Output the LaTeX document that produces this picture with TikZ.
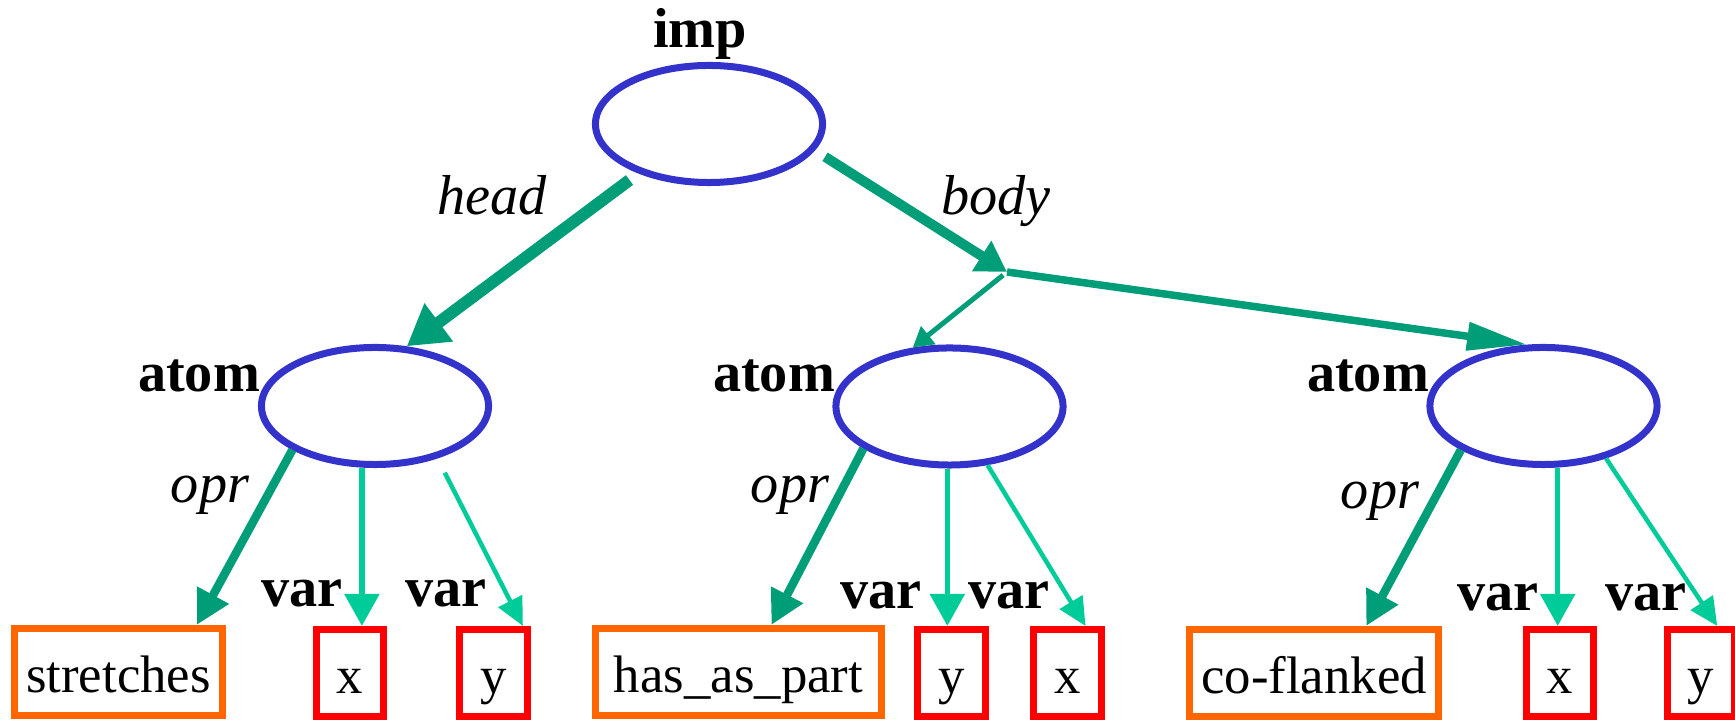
\documentclass[tikz,border=0pt]{standalone}
\usepackage{fontspec}
\setmainfont{Liberation Serif}
\usetikzlibrary{shapes.geometric,arrows.meta}

\definecolor{bleunoeud}{RGB}{51,51,204}
\definecolor{orangeopr}{RGB}{255,102,0}
\definecolor{rougevar}{RGB}{255,0,0}
\definecolor{vertarc}{RGB}{0,158,120}
\definecolor{vertvar}{RGB}{0,204,153}

\begin{document}
\begin{tikzpicture}[x=0.01cm, y=-0.01cm,
  noeud/.style={ellipse, draw=bleunoeud, line width=0.07cm, minimum width=2.27cm, minimum height=1.17cm, inner sep=0pt},
  boite/.style={rectangle, line width=0.07cm, minimum height=0.87cm, inner sep=0pt, font=\fontsize{15}{18}\selectfont, text height=0.4cm, text depth=0pt},
  oprbox/.style={boite, draw=orangeopr},
  varbox/.style={boite, draw=rougevar, minimum width=0.67cm},
  etiq/.style={anchor=base, inner sep=0pt, font=\fontsize{16}{19}\selectfont\bfseries},
  arc/.style={anchor=base, inner sep=0pt, font=\fontsize{16}{19}\selectfont\itshape},
  gros/.style={draw=vertarc, line width=0.12cm, -{Triangle[length=0.4cm, width=0.45cm]}},
  moyen/.style={draw=vertarc, line width=0.1cm, -{Triangle[length=0.3cm, width=0.34cm]}},
  opr/.style={draw=vertarc, line width=0.085cm, -{Triangle[length=0.34cm, width=0.34cm]}},
  var/.style={draw=vertvar, line width=0.055cm, -{Triangle[length=0.32cm, width=0.34cm]}},
  varfin/.style={draw=vertvar, line width=0.045cm, -{Triangle[length=0.28cm, width=0.26cm]}}]

\useasboundingbox (0,0) rectangle (1735,722);

% Les ellipses
\node[noeud] (imp) at (709,124) {};
\node[noeud] (atomA) at (375,406) {};
\node[noeud] (atomB) at (949.5,406.5) {};
\node[noeud] (atomC) at (1543.5,406) {};

% Les etiquettes des ellipses
\node[etiq] (impLbl) at (700,48) {imp};
\foreach \x/\nom in {199/A, 774/B, 1368/C}
\node[etiq] (atomLbl\nom) at (\x,392) {atom};

% Les operateurs
\node[oprbox, minimum width=2.07cm] (oprA) at (118.5,672) {stretches};
\node[oprbox, minimum width=2.85cm] (oprB) at (738.5,672) {has\_as\_part};
\node[oprbox, minimum width=2.48cm] (oprC) at (1314,673) {co-flanked};

% Les variables
\foreach \nom/\x/\v in {varAx/350/x, varAy/493.5/y, varBy/951.5/y, varBx/1067.5/x, varCx/1560/x, varCy/1701/y}
\node[varbox] (\nom) at (\x,673) {\v};

\foreach \x/\y [count=\i] in {302/607, 446/607, 881/609, 1009/609, 1498/611, 1646/611}
\node[etiq] (varLbl\i) at (\x,\y) {var};

% head et body
\coordinate (fourche) at (1007,272);
\draw[gros, shorten <=0.11cm] (imp.215) -- (atomA.62);
\draw[moyen, shorten <=0.12cm] (imp.-14) -- (fourche);
\draw[draw=vertarc, line width=0.05cm, -{Triangle[length=0.2cm, width=0.22cm]}, shorten <=0.05cm] (fourche) -- (atomB.122);
\draw[draw=vertarc, line width=0.075cm, -{Triangle[length=0.6cm, width=0.27cm]}] (fourche) -- (atomC.105);
\node[arc] (headLbl) at (492,215) {head};
\node[arc] (bodyLbl) at (996,215) {body};

% Les arcs opr
\draw[opr] (atomA.208) -- (oprA.31);
\draw[opr] (atomB.206) -- (oprB.55);
\draw[opr] (atomC.208) -- (oprC.42);
\foreach \x/\y/\nom in {210/503/A, 790/503/B, 1380/509/C}
\node[arc] (oprLbl\nom) at (\x,\y) {opr};

% Les arcs var
\draw[var] (atomA.258) -- (atomA.258 |- varAx.north);
\draw[var] (atomB.268) -- (atomB.268 |- varBy.north);
\draw[var] (atomC.-77) -- (atomC.-77 |- varCx.north);
\draw[varfin, shorten <=0.16cm] (atomA.-40) -- (varAy.58);
\draw[varfin] (atomB.-57) -- (varBx.69);
\draw[varfin] (atomC.-40) -- (varCy.71);

\end{tikzpicture}
\end{document}
